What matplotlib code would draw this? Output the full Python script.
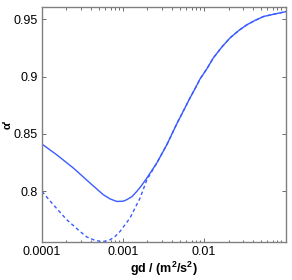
import matplotlib
matplotlib.use("Agg")
import matplotlib.pyplot as plt
import numpy as np
from matplotlib.ticker import NullFormatter, LogLocator

plt.rcParams['font.family'] = ['Liberation Sans', 'DejaVu Sans']
plt.rcParams['mathtext.fontset'] = 'custom'
plt.rcParams['mathtext.rm'] = 'Liberation Sans'
plt.rcParams['mathtext.bf'] = 'Liberation Sans:bold'

# data (log10 of gd, alpha')
solid_logx = [-4.0, -3.8185, -3.6136, -3.4074, -3.2432, -3.16, -3.0778, -3.0, -2.9543, -2.89,
              -2.8309, -2.77, -2.7074, -2.584, -2.4605, -2.337, -2.1728, -2.11, -2.0494, -1.97,
              -1.8852, -1.78, -1.679, -1.57, -1.4728, -1.37, -1.2679, -1.13, -0.9877]
solid_y = [0.8412, 0.8319, 0.8204, 0.8073, 0.7971, 0.7935, 0.7913, 0.7915, 0.7928, 0.7955,
           0.8000, 0.8053, 0.8116, 0.8247, 0.8406, 0.8589, 0.8815, 0.8897, 0.8980, 0.9063,
           0.9163, 0.9258, 0.9337, 0.9402, 0.9450, 0.9489, 0.9522, 0.9544, 0.9565]

dashed_logx = [-4.0, -3.86, -3.695, -3.531, -3.45, -3.367, -3.284, -3.22, -3.16, -3.10, -3.037,
               -2.914, -2.79, -2.707, -2.584, -2.4605, -2.337, -2.1728, -2.11, -2.0494, -1.97,
               -1.8852, -1.78, -1.679, -1.57, -1.4728, -1.37, -1.2679, -1.13, -0.9877]
dashed_y = [0.800, 0.7884, 0.7754, 0.7652, 0.7605, 0.758, 0.7565, 0.7567, 0.758, 0.7607, 0.7652,
            0.7769, 0.7943, 0.8100, 0.8247, 0.8406, 0.8589, 0.8815, 0.8897, 0.8980, 0.9063,
            0.9163, 0.9258, 0.9337, 0.9402, 0.9450, 0.9489, 0.9522, 0.9544, 0.9565]

xticks = [1e-4, 1e-3, 1e-2]
xticklabels = ['0.0001', '0.001', '0.01']
yticks = [0.8, 0.85, 0.9, 0.95]
yticklabels = ['0.8', '0.85', '0.9', '0.95']

color = '#3a5cff'

fig = plt.figure(figsize=(2.92, 2.80), dpi=100)
ax = fig.add_axes([42/292, 38/280, 244/292, 235/280])

ax.plot(10**np.array(solid_logx), solid_y, '-', color=color, lw=1.0)
ax.plot(10**np.array(dashed_logx), dashed_y, '--', color=color, lw=1.0, dashes=(2.5, 2))

ax.set_xscale('log')
ax.set_xlim(1e-4, 10**-0.99)
ax.set_ylim(0.756, 0.9605)
ax.set_xticks(xticks)
ax.set_xticklabels(xticklabels)
ax.xaxis.set_minor_locator(LogLocator(base=10, subs=np.arange(2, 10)))
ax.xaxis.set_minor_formatter(NullFormatter())
ax.set_yticks(yticks)
ax.set_yticklabels(yticklabels)

ax.tick_params(which='both', direction='in', top=True, right=True, labelsize=9,
               color='#555555', pad=3)
ax.tick_params(which='major', length=3, width=0.6)
ax.tick_params(which='minor', length=1.8, width=0.6)
for s in ax.spines.values():
    s.set_color('#808080')
    s.set_linewidth(1.0)

ax.set_xlabel(r'gd / (m$^{\mathbf{2}}$/s$^{\mathbf{2}}$)', fontsize=9, fontweight='bold', labelpad=1)
ax.set_ylabel("α'", fontsize=8, fontweight='bold')
ax.yaxis.set_label_coords(-0.12, 0.5)

fig.savefig('out.png', dpi=100)
